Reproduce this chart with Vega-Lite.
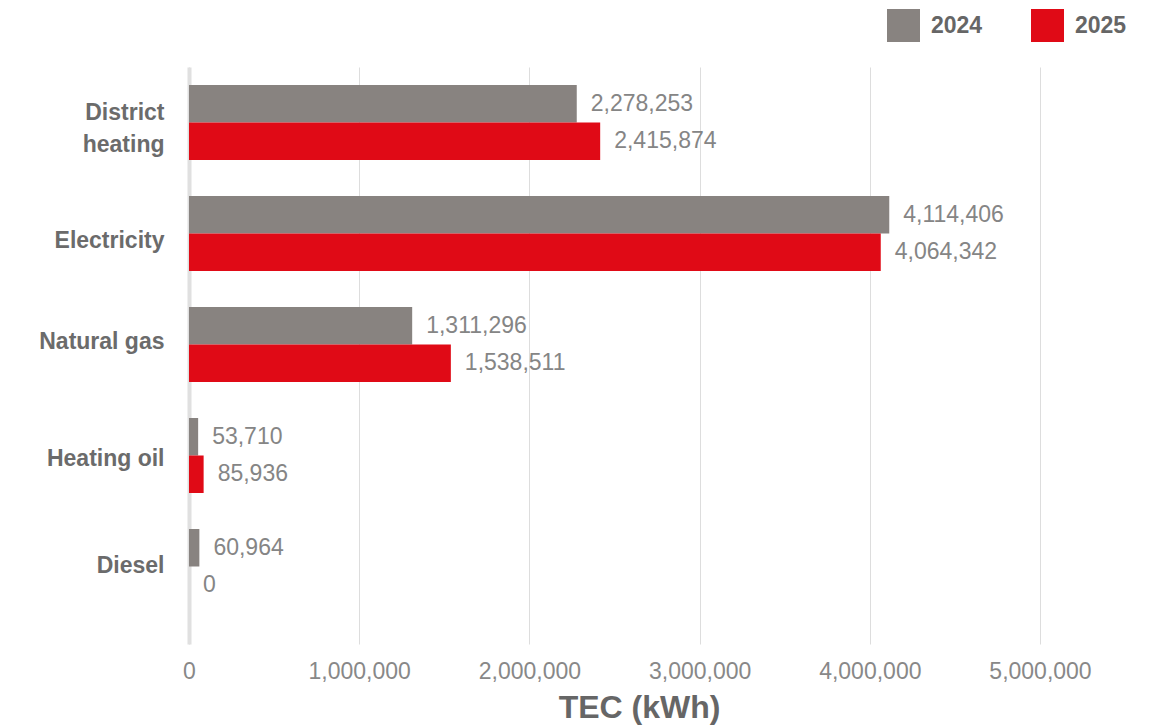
{
  "$schema": "https://vega.github.io/schema/vega-lite/v6.json",
  "width": 851,
  "height": 577,
  "autosize": {"type": "none"},
  "padding": {"left": 189, "top": 67, "right": 127, "bottom": 84},
  "background": "white",
  "config": {
    "view": {"stroke": null},
    "font": "Liberation Sans"
  },
  "data": {
    "values": [
      {"source": "District heating", "year": "2024", "kwh": 2278253},
      {"source": "District heating", "year": "2025", "kwh": 2415874},
      {"source": "Electricity", "year": "2024", "kwh": 4114406},
      {"source": "Electricity", "year": "2025", "kwh": 4064342},
      {"source": "Natural gas", "year": "2024", "kwh": 1311296},
      {"source": "Natural gas", "year": "2025", "kwh": 1538511},
      {"source": "Heating oil", "year": "2024", "kwh": 53710},
      {"source": "Heating oil", "year": "2025", "kwh": 85936},
      {"source": "Diesel", "year": "2024", "kwh": 60964},
      {"source": "Diesel", "year": "2025", "kwh": 0}
    ]
  },
  "encoding": {
    "y": {
      "field": "source",
      "type": "nominal",
      "sort": ["District heating", "Electricity", "Natural gas", "Heating oil", "Diesel"],
      "scale": {"paddingInner": 0.324, "paddingOuter": 0.261, "align": 0.31},
      "axis": {
        "title": null,
        "ticks": false,
        "domainColor": "#e0e0e0",
        "domainWidth": 4,
        "labelFont": "Liberation Sans",
        "labelFontWeight": "bold",
        "labelFontSize": 23,
        "labelColor": "#6b6b6b",
        "labelPadding": 25,
        "labelLineHeight": 32,
        "labelOffset": {
          "condition": [
            {"test": "datum.value == 'District heating'", "value": -9},
            {"test": "datum.value == 'Electricity'", "value": 8},
            {"test": "datum.value == 'Natural gas'", "value": -2},
            {"test": "datum.value == 'Heating oil'", "value": 4}
          ],
          "value": 0
        },
        "labelExpr": "datum.value == 'District heating' ? ['District', 'heating'] : datum.value"
      }
    },
    "yOffset": {"field": "year", "type": "nominal", "sort": ["2024", "2025"], "scale": {"paddingInner": 0, "paddingOuter": 0}},
    "x": {
      "field": "kwh",
      "type": "quantitative",
      "scale": {"domain": [0, 5000000], "nice": false},
      "axis": {
        "title": "TEC (kWh)",
        "values": [0, 1000000, 2000000, 3000000, 4000000, 5000000],
        "format": ",.0f",
        "grid": true,
        "gridColor": "#dddddd",
        "gridWidth": 1,
        "domain": false,
        "ticks": false,
        "labelFlush": false,
        "labelFontSize": 23,
        "labelColor": "#888888",
        "labelPadding": 16,
        "labelFont": "Liberation Sans",
        "titleFont": "Liberation Sans",
        "titleFontSize": 32,
        "titleFontWeight": "bold",
        "titleColor": "#666666",
        "titleX": 450,
        "titleY": 73,
        "titleBaseline": "alphabetic",
        "titleAlign": "center"
      }
    }
  },
  "layer": [
    {
      "mark": {"type": "bar"},
      "encoding": {
        "color": {
          "field": "year",
          "type": "nominal",
          "scale": {"domain": ["2024", "2025"], "range": ["#888380", "#e00a16"]},
          "legend": {
            "title": null,
            "orient": "none",
            "legendX": 698,
            "legendY": -58,
            "direction": "horizontal",
            "symbolType": "square",
            "symbolSize": 1089,
            "symbolStrokeWidth": 0,
            "symbolOpacity": 1,
            "labelFontSize": 23,
            "labelFontWeight": "bold",
            "labelColor": "#666666",
            "labelFont": "Liberation Sans",
            "labelOffset": 11,
            "columnPadding": 48,
            "padding": 0
          }
        }
      }
    },
    {
      "mark": {"type": "text", "align": "left", "baseline": "middle", "dx": 14, "fontSize": 23, "color": "#858585", "font": "Liberation Sans"},
      "encoding": {
        "text": {"field": "kwh", "type": "quantitative", "format": ",.0f"}
      }
    }
  ]
}
